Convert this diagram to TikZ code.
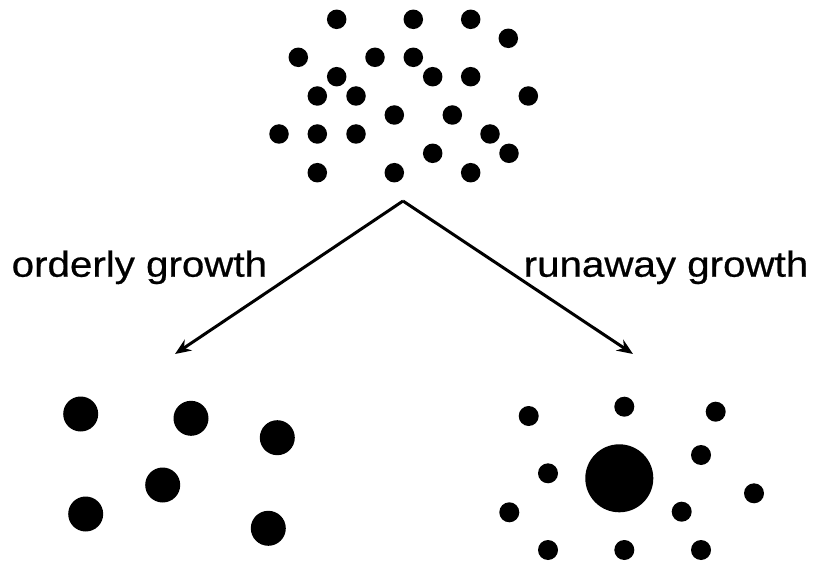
\documentclass[tikz,border=0pt]{standalone}
\usepackage{fontspec}
\setmainfont{Liberation Sans}
\newfontfamily\lblfont[FakeBold=0.6]{Liberation Sans}
\usetikzlibrary{arrows.meta}
\begin{document}
\begin{tikzpicture}[x=1pt,y=-1pt,
  sdot/.style={circle,fill=black,inner sep=0pt,minimum size=19.5pt},
  mdot/.style={circle,fill=black,inner sep=0pt,minimum size=35pt},
  bdot/.style={circle,fill=black,inner sep=0pt,minimum size=68pt},
  rdot/.style={circle,fill=black,inner sep=0pt,minimum size=20pt},
  growarrow/.style={line width=3pt,-{Stealth[length=16pt,width=13pt]}},
  lbl/.style={inner sep=0pt,anchor=base west,font=\lblfont\fontsize{36}{42}\selectfont}]
\useasboundingbox (0,0) rectangle (814,561);
% top cluster
\foreach \i/\x/\y in {1/336.7/19.3,2/413.3/19.3,3/470.7/19.3,4/508.3/38.3,
  5/298.3/57.3,6/375/57.3,7/413.3/57.3,8/336.7/76.7,9/432.7/76.7,10/470.7/76.7,
  11/317.3/96,12/356/96,13/528.3/96,14/394.3/115,15/452.3/115,
  16/279/134,17/317.3/134,18/356/134,19/490/134,20/432.7/153.3,21/509/153.3,
  22/317.3/172.7,23/394.3/172.7,24/470.7/172.7}
  \node[sdot] (t\i) at (\x,\y) {};
% bottom left
\foreach \i/\x/\y in {1/80.7/414,2/191/418.3,3/277.3/437.7,4/162.7/485,5/85.7/514,6/268.3/528.3}
  \node[mdot] (l\i) at (\x,\y) {};
% bottom right
\foreach \i/\x/\y in {1/528.7/416,2/624.3/406.7,3/715.7/411.7,4/701/455,5/548/473.3,
  7/754/493.3,8/509.3/512.3,9/681.7/511.7,10/548/550,11/624.3/550,12/701/550}
  \node[rdot] (r\i) at (\x,\y) {};
\node[bdot] (big) at (619.3,478.3) {};
% arrows
\coordinate (apex) at (403,201);
\coordinate (ltip) at (175,354);
\coordinate (rtip) at (633,354);
\draw[growarrow] (apex) -- (ltip);
\draw[growarrow] (apex) -- (rtip);
\node[lbl] (ol) at (11.5,276.7) {\scalebox{1.12}[1]{orderly growth}};
\node[lbl] (rl) at (523.5,276.7) {\scalebox{1.12}[1]{runaway growth}};
\end{tikzpicture}
\end{document}
